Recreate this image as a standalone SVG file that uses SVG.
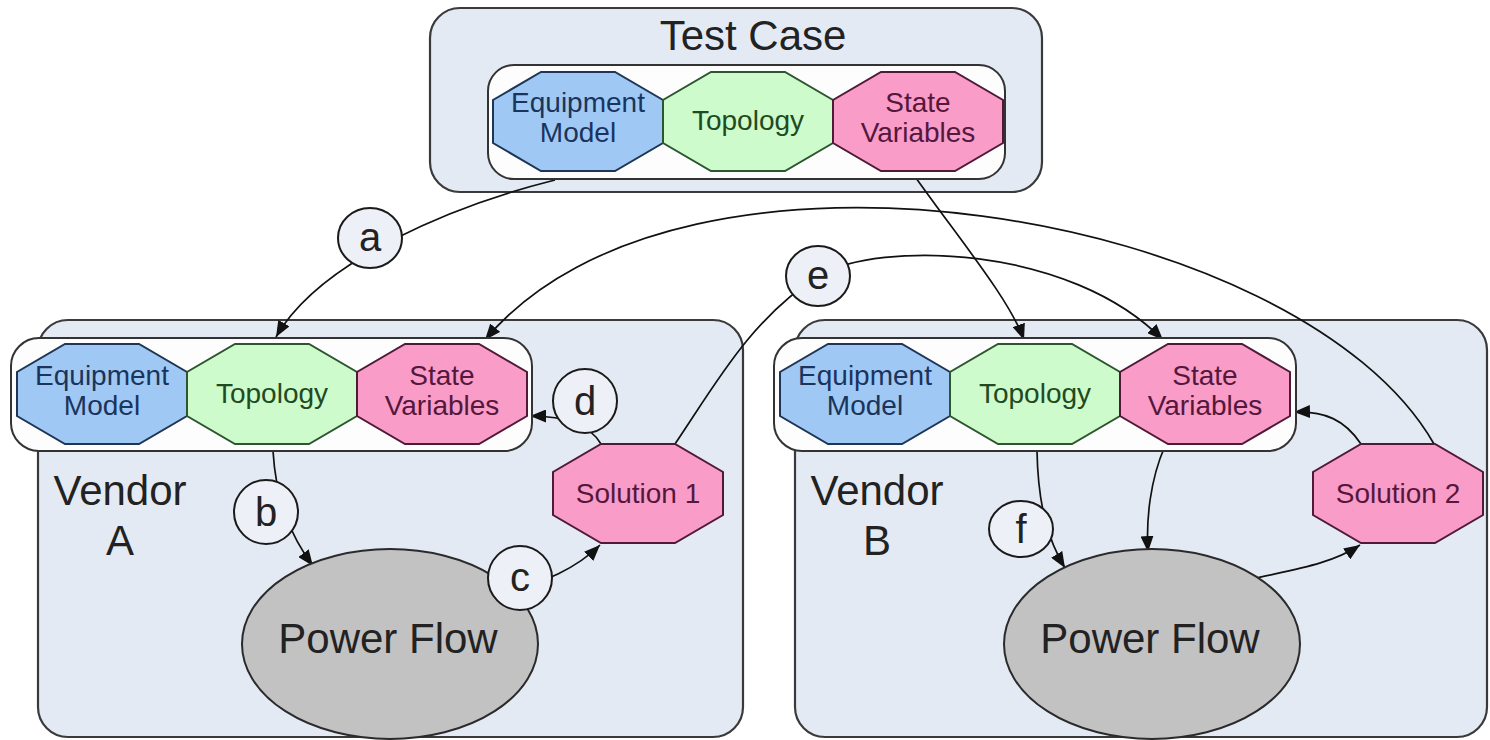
<svg xmlns="http://www.w3.org/2000/svg" width="1490" height="740" viewBox="0 0 1490 740">
<defs>
<style>
.panel{fill:#e4eaf4;stroke:#3a3a3a;stroke-width:2.2}
.inner{fill:#fdfdfd;stroke:#333;stroke-width:2}
.eq{fill:#9fc9f4;stroke:#1e3555;stroke-width:2}
.tp{fill:#cefbcb;stroke:#2c5530;stroke-width:2}
.sv{fill:#f99cc8;stroke:#4e1a36;stroke-width:2}
.pf{fill:#c2c2c2;stroke:#2a2a2a;stroke-width:2}
.lbl{fill:#edf0f6;stroke:#1a1a1a;stroke-width:2}
.t{font-family:"Liberation Sans",Arial,sans-serif;text-anchor:middle}
.teq{fill:#1b345c;font-size:28px}
.ttp{fill:#1f4a22;font-size:28px}
.tsv{fill:#55173c;font-size:28px}
.big{fill:#222;font-size:42px}
.ltr{fill:#222;font-size:40px}
.con{fill:none;stroke:#111;stroke-width:1.7}
</style>
<marker id="arr" markerUnits="userSpaceOnUse" markerWidth="17" markerHeight="13" refX="16" refY="6.5" orient="auto">
<path d="M0,0 L16,6.5 L0,13 z" fill="#111"/>
</marker>
</defs>

<rect x="0" y="0" width="1490" height="740" fill="#ffffff"/>

<g id="test-case">
<rect class="panel" x="430" y="8" width="612" height="184" rx="30"/>
<text class="t big" x="753" y="50" font-size="43">Test Case</text>
</g>
<g id="vendor-a">
<rect class="panel" x="38" y="320" width="705" height="417" rx="30"/>
<text class="t big" x="120" y="505">Vendor</text>
<text class="t big" x="120" y="555">A</text>
</g>
<g id="vendor-b">
<rect class="panel" x="795" y="320" width="692" height="417" rx="30"/>
<text class="t big" x="877" y="505">Vendor</text>
<text class="t big" x="877" y="555">B</text>
</g>

<g id="connectors">
<path class="con" d="M555 180 C455 205 320 260 276 337" marker-end="url(#arr)"/>
<path class="con" d="M916 178 C960 240 1010 300 1024 340" marker-end="url(#arr)"/>
<path class="con" d="M1434 444 C1300 210 680 105 485 340" marker-end="url(#arr)"/>
<path class="con" d="M675 444 C715 385 750 320 818 276 C880 240 1070 245 1163 340" marker-end="url(#arr)"/>
<path class="con" d="M601 444 C590 425 565 416 530 416" marker-end="url(#arr)"/>
<path class="con" d="M273 451 C276 500 290 535 313 566" marker-end="url(#arr)"/>
<path class="con" d="M495 598 C530 585 570 575 600 545" marker-end="url(#arr)"/>
<path class="con" d="M1037 451 C1038 505 1048 540 1065 568" marker-end="url(#arr)"/>
<path class="con" d="M1165 446 C1150 480 1146 520 1148 552" marker-end="url(#arr)"/>
<path class="con" d="M1248 580 C1290 570 1330 565 1360 545" marker-end="url(#arr)"/>
<path class="con" d="M1361 444 C1345 420 1325 411 1294 412" marker-end="url(#arr)"/>
</g>

<g id="tc-model">
<rect class="inner" x="488" y="65" width="517" height="114" rx="26"/>
</g>
<g id="tc-equipment">
<polygon class="eq" points="541,72 615,72 663,100 663,143 615,171 541,171 493,143 493,100"/>
<text class="t teq" x="578" y="112">Equipment</text>
<text class="t teq" x="578" y="142">Model</text>
</g>
<g id="tc-topology">
<polygon class="tp" points="711,72 785,72 833,100 833,143 785,171 711,171 663,143 663,100"/>
<text class="t ttp" x="748" y="130">Topology</text>
</g>
<g id="tc-state">
<polygon class="sv" points="881,72 955,72 1003,100 1003,143 955,171 881,171 833,143 833,100"/>
<text class="t tsv" x="918" y="112">State</text>
<text class="t tsv" x="918" y="142">Variables</text>
</g>

<g id="a-model">
<rect class="inner" x="11" y="338" width="521" height="113" rx="28"/>
</g>
<g id="a-equipment">
<polygon class="eq" points="65,344 139,344 187,372 187,416 139,444 65,444 17,416 17,372"/>
<text class="t teq" x="102" y="385">Equipment</text>
<text class="t teq" x="102" y="415">Model</text>
</g>
<g id="a-topology">
<polygon class="tp" points="235,344 309,344 357,372 357,416 309,444 235,444 187,416 187,372"/>
<text class="t ttp" x="272" y="403">Topology</text>
</g>
<g id="a-state">
<polygon class="sv" points="405,344 479,344 527,372 527,416 479,444 405,444 357,416 357,372"/>
<text class="t tsv" x="442" y="385">State</text>
<text class="t tsv" x="442" y="415">Variables</text>
</g>
<g id="a-solution">
<polygon class="sv" points="601,444 675,444 723,472 723,515 675,543 601,543 553,515 553,472"/>
<text class="t tsv" x="638" y="503">Solution 1</text>
</g>
<g id="a-powerflow">
<ellipse class="pf" cx="390" cy="644" rx="148" ry="95"/>
<text class="t big" x="388" y="653">Power Flow</text>
</g>

<g id="b-model">
<rect class="inner" x="774" y="338" width="522" height="113" rx="28"/>
</g>
<g id="b-equipment">
<polygon class="eq" points="828,344 902,344 950,372 950,416 902,444 828,444 780,416 780,372"/>
<text class="t teq" x="865" y="385">Equipment</text>
<text class="t teq" x="865" y="415">Model</text>
</g>
<g id="b-topology">
<polygon class="tp" points="998,344 1072,344 1120,372 1120,416 1072,444 998,444 950,416 950,372"/>
<text class="t ttp" x="1035" y="403">Topology</text>
</g>
<g id="b-state">
<polygon class="sv" points="1168,344 1242,344 1290,372 1290,416 1242,444 1168,444 1120,416 1120,372"/>
<text class="t tsv" x="1205" y="385">State</text>
<text class="t tsv" x="1205" y="415">Variables</text>
</g>
<g id="b-solution">
<polygon class="sv" points="1361,444 1435,444 1483,472 1483,515 1435,543 1361,543 1313,515 1313,472"/>
<text class="t tsv" x="1398" y="503">Solution 2</text>
</g>
<g id="b-powerflow">
<ellipse class="pf" cx="1152" cy="644" rx="148" ry="95"/>
<text class="t big" x="1150" y="653">Power Flow</text>
</g>

<g id="labels">
<g id="label-a"><ellipse class="lbl" cx="370" cy="238" rx="32" ry="30"/><text class="t ltr" x="370" y="251">a</text></g>
<g id="label-b"><circle class="lbl" cx="266" cy="512" r="32"/><text class="t ltr" x="266" y="526">b</text></g>
<g id="label-c"><circle class="lbl" cx="520" cy="578" r="32"/><text class="t ltr" x="520" y="591">c</text></g>
<g id="label-d"><circle class="lbl" cx="585" cy="401" r="32"/><text class="t ltr" x="585" y="415">d</text></g>
<g id="label-e"><ellipse class="lbl" cx="818" cy="276" rx="32" ry="30"/><text class="t ltr" x="818" y="289">e</text></g>
<g id="label-f"><ellipse class="lbl" cx="1021" cy="529" rx="32" ry="28"/><text class="t ltr" x="1021" y="543">f</text></g>
</g>
</svg>
